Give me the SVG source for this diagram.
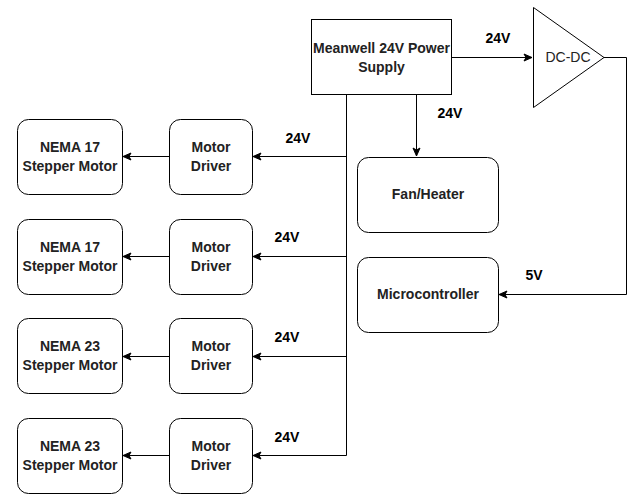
<svg xmlns="http://www.w3.org/2000/svg" width="629" height="494" viewBox="0 0 629 494">
<style>
.box{fill:#fff;stroke:#000;stroke-width:1}
.t{font-family:"Liberation Sans",Arial,sans-serif;font-size:14px;font-weight:bold;fill:#222;text-anchor:middle}
.lbl{font-family:"Liberation Sans",Arial,sans-serif;font-size:14px;font-weight:bold;fill:#000;text-anchor:middle}
.c{fill:none;stroke:#000;stroke-width:1}
</style>
<defs>
<marker id="ah" markerUnits="userSpaceOnUse" markerWidth="10" markerHeight="10" viewBox="0 0 10 10" refX="9" refY="5" orient="auto">
<path d="M1,1.5 L9,5 L1,8.5 L3,5 Z" fill="#000" stroke="#000" stroke-width="1"/>
</marker>
</defs>
<rect width="629" height="494" fill="#fff"/>
<g id="connectors">
<path class="c" d="M452,57.5 H532" marker-end="url(#ah)"/>
<path class="c" d="M604,57.5 H626.5 V294.5 H499" marker-end="url(#ah)"/>
<path class="c" d="M416.5,94.5 V156" marker-end="url(#ah)"/>
<path class="c" d="M346.5,94.5 V455.5 H253" marker-end="url(#ah)"/>
<path class="c" d="M346.5,156.5 H253" marker-end="url(#ah)"/>
<path class="c" d="M346.5,256.5 H253" marker-end="url(#ah)"/>
<path class="c" d="M346.5,356.5 H253" marker-end="url(#ah)"/>
<path class="c" d="M169,156.5 H123" marker-end="url(#ah)"/>
<path class="c" d="M169,256.5 H123" marker-end="url(#ah)"/>
<path class="c" d="M169,356.5 H123" marker-end="url(#ah)"/>
<path class="c" d="M169,455.5 H123" marker-end="url(#ah)"/>
<text class="lbl" x="498" y="43">24V</text>
<text class="lbl" x="450" y="118">24V</text>
<text class="lbl" x="298" y="143">24V</text>
<text class="lbl" x="287" y="242">24V</text>
<text class="lbl" x="287" y="342">24V</text>
<text class="lbl" x="287" y="442">24V</text>
<text class="lbl" x="534" y="280">5V</text>
</g>
<g id="psu">
<rect class="box" x="311.5" y="19.5" width="140" height="75"/>
<text class="t" x="381.5" y="53">Meanwell 24V Power</text>
<text class="t" x="381.5" y="72">Supply</text>
</g>
<g id="dcdc">
<path class="box" d="M533.5,7.5 L604,57.5 L533.5,107.5 Z"/>
<text class="t" x="568" y="62" style="font-weight:normal">DC-DC</text>
</g>
<g id="fan">
<rect class="box" x="357.5" y="157.5" width="141" height="75" rx="11" ry="11"/>
<text class="t" x="428" y="198.5">Fan/Heater</text>
</g>
<g id="mcu">
<rect class="box" x="357.5" y="257.5" width="141" height="75" rx="11" ry="11"/>
<text class="t" x="428" y="298.5">Microcontroller</text>
</g>
<g id="driver1">
<rect class="box" x="169.5" y="119.5" width="83" height="75" rx="11" ry="11"/>
<text class="t" x="211" y="152">Motor</text>
<text class="t" x="211" y="171">Driver</text>
</g>
<g id="driver2">
<rect class="box" x="169.5" y="219.5" width="83" height="75" rx="11" ry="11"/>
<text class="t" x="211" y="252">Motor</text>
<text class="t" x="211" y="271">Driver</text>
</g>
<g id="driver3">
<rect class="box" x="169.5" y="318.5" width="83" height="75" rx="11" ry="11"/>
<text class="t" x="211" y="351">Motor</text>
<text class="t" x="211" y="370">Driver</text>
</g>
<g id="driver4">
<rect class="box" x="169.5" y="418.5" width="83" height="75" rx="11" ry="11"/>
<text class="t" x="211" y="451">Motor</text>
<text class="t" x="211" y="470">Driver</text>
</g>
<g id="motor1">
<rect class="box" x="17.5" y="119.5" width="105" height="75" rx="11" ry="11"/>
<text class="t" x="70" y="152">NEMA 17</text>
<text class="t" x="70" y="171">Stepper Motor</text>
</g>
<g id="motor2">
<rect class="box" x="17.5" y="219.5" width="105" height="75" rx="11" ry="11"/>
<text class="t" x="70" y="252">NEMA 17</text>
<text class="t" x="70" y="271">Stepper Motor</text>
</g>
<g id="motor3">
<rect class="box" x="17.5" y="318.5" width="105" height="75" rx="11" ry="11"/>
<text class="t" x="70" y="351">NEMA 23</text>
<text class="t" x="70" y="370">Stepper Motor</text>
</g>
<g id="motor4">
<rect class="box" x="17.5" y="418.5" width="105" height="75" rx="11" ry="11"/>
<text class="t" x="70" y="451">NEMA 23</text>
<text class="t" x="70" y="470">Stepper Motor</text>
</g>
</svg>
